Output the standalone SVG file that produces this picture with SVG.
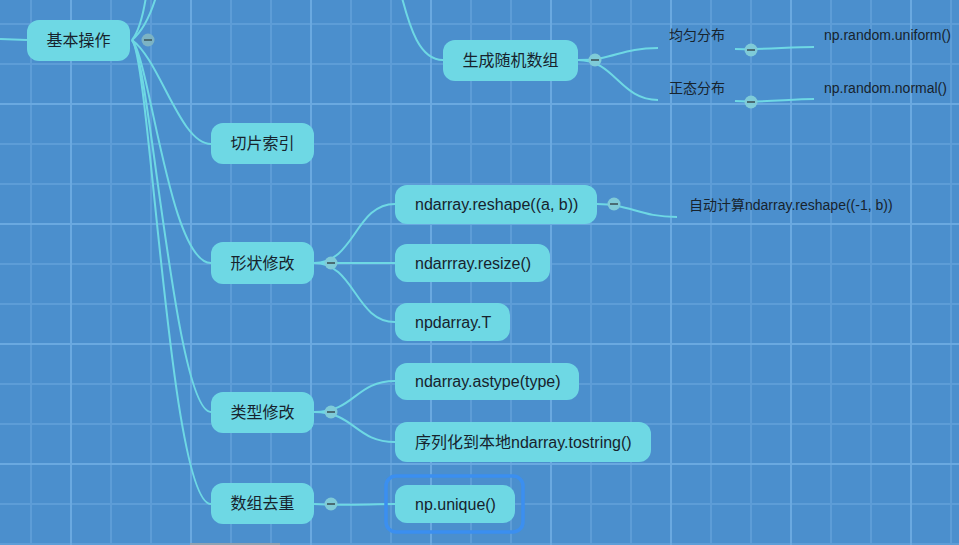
<svg xmlns="http://www.w3.org/2000/svg" width="959" height="545" viewBox="0 0 959 545">
<defs>
<pattern id="minor" x="30" y="23" width="40" height="40" patternUnits="userSpaceOnUse">
<rect x="0" y="0" width="2" height="40" fill="#5d9dd7"/>
<rect x="0" y="0" width="40" height="2" fill="#5d9dd7"/>
</pattern>
<pattern id="major" x="70" y="103" width="120" height="120" patternUnits="userSpaceOnUse">
<rect x="0" y="0" width="2" height="120" fill="#6aa9e0"/>
<rect x="0" y="0" width="120" height="2" fill="#6aa9e0"/>
</pattern>
<style>
.node rect{fill:#6ed8e4;}
.t{font-family:"Liberation Sans","Noto Sans CJK SC",sans-serif;font-size:16px;fill:#17232d;dominant-baseline:central;}
.c{text-anchor:middle;}
.s{font-size:14px;}
.conn path{fill:none;stroke:#6ed8e4;stroke-width:2;}
.tog circle{fill:#7fcbd8;}
.tog line{stroke:#4a6b72;stroke-width:2;}
</style>
</defs>
<rect width="959" height="545" fill="#4b8fcd"/>
<rect width="959" height="545" fill="url(#minor)"/>
<rect width="959" height="545" fill="url(#major)"/>
<rect x="190" y="543" width="90" height="2" fill="#8fa3b3"/>

<g id="connectors" class="conn">
<path d="M0,39 L27,40"/>
<path d="M132,40 C140,30 144,12 147,-10"/>
<path d="M132,40 C144,30 152,12 158,-10"/>
<path d="M132,40 C160,60 180,144 211,144"/>
<path d="M132,40 C150,60 170,263 211,263"/>
<path d="M132,40 C150,60 175,412 211,412"/>
<path d="M132,40 C150,60 170,504 211,504"/>
<path d="M400,-10 C410,30 420,60 443,60"/>
<path d="M578,60 C615,60 620,48 658,48"/>
<path d="M578,60 C615,60 620,100 658,100"/>
<path d="M735,49 C760,50 790,47 814,47"/>
<path d="M735,101 C760,103 790,99 814,99"/>
<path d="M314,263 C355,263 355,204 395,204"/>
<path d="M314,263 L395,263"/>
<path d="M314,263 C355,263 355,322 395,322"/>
<path d="M597,204 C630,204 640,217 677,217"/>
<path d="M314,412 C355,412 355,381 395,381"/>
<path d="M314,412 C355,412 355,442 395,442"/>
<path d="M314,504 C340,506 370,504 395,504"/>
</g>

<g id="n-jiben" class="node"><rect x="27" y="20" width="103" height="41" rx="12"/><text class="t c" x="78.5" y="40.5">基本操作</text></g>
<g id="n-qiepian" class="node"><rect x="211" y="123" width="103" height="41" rx="12"/><text class="t c" x="262.5" y="143.5">切片索引</text></g>
<g id="n-shengcheng" class="node"><rect x="443" y="40" width="135" height="41" rx="12"/><text class="t c" x="510.5" y="60.5">生成随机数组</text></g>
<g id="n-junyun"><text class="t s" x="669" y="35">均匀分布</text></g>
<g id="n-uniform"><text class="t s" x="824" y="35">np.random.uniform()</text></g>
<g id="n-zhengtai"><text class="t s" x="669" y="88">正态分布</text></g>
<g id="n-normal"><text class="t s" x="824" y="88">np.random.normal()</text></g>
<g id="n-xingzhuang" class="node"><rect x="211" y="242" width="103" height="42" rx="12"/><text class="t c" x="262.5" y="263">形状修改</text></g>
<g id="n-reshape" class="node"><rect x="395" y="185" width="202" height="39" rx="12"/><text class="t" x="415" y="204.5">ndarray.reshape((a, b))</text></g>
<g id="n-auto"><text class="t s" x="689" y="205">自动计算ndarray.reshape((-1, b))</text></g>
<g id="n-resize" class="node"><rect x="395" y="244" width="155" height="38" rx="12"/><text class="t" x="415" y="263">ndarrray.resize()</text></g>
<g id="n-T" class="node"><rect x="395" y="303" width="115" height="38" rx="12"/><text class="t" x="415" y="322">npdarray.T</text></g>
<g id="n-leixing" class="node"><rect x="211" y="392" width="103" height="41" rx="12"/><text class="t c" x="262.5" y="412.5">类型修改</text></g>
<g id="n-astype" class="node"><rect x="395" y="363" width="184" height="37" rx="12"/><text class="t" x="415" y="381.5">ndarray.astype(type)</text></g>
<g id="n-tostring" class="node"><rect x="395" y="422" width="256" height="40" rx="12"/><text class="t" x="415" y="442">序列化到本地ndarray.tostring()</text></g>
<g id="n-quchong" class="node"><rect x="211" y="483" width="103" height="41" rx="12"/><text class="t c" x="262.5" y="503.5">数组去重</text></g>
<g id="n-unique" class="node"><rect x="386" y="476" width="137" height="56" rx="10" fill="none" style="fill:none;stroke:#3b8ff0;stroke-width:3.5"/><rect x="395" y="485" width="120" height="38" rx="12"/><text class="t" x="415" y="504">np.unique()</text></g>

<g id="toggles" class="tog">
<g><circle cx="148" cy="40" r="6.5" style="fill:#7cb3c4"/><line x1="144" y1="40" x2="152" y2="40"/></g>
<g><circle cx="595" cy="60" r="6.5"/><line x1="591" y1="60" x2="599" y2="60"/></g>
<g><circle cx="751" cy="50" r="6.5"/><line x1="747" y1="50" x2="755" y2="50"/></g>
<g><circle cx="751" cy="102" r="6.5"/><line x1="747" y1="102" x2="755" y2="102"/></g>
<g><circle cx="331" cy="263" r="6.5"/><line x1="327" y1="263" x2="335" y2="263"/></g>
<g><circle cx="614" cy="204" r="6.5"/><line x1="610" y1="204" x2="618" y2="204"/></g>
<g><circle cx="331" cy="412" r="6.5"/><line x1="327" y1="412" x2="335" y2="412"/></g>
<g><circle cx="331" cy="504" r="6.5"/><line x1="327" y1="504" x2="335" y2="504"/></g>
</g>
</svg>
